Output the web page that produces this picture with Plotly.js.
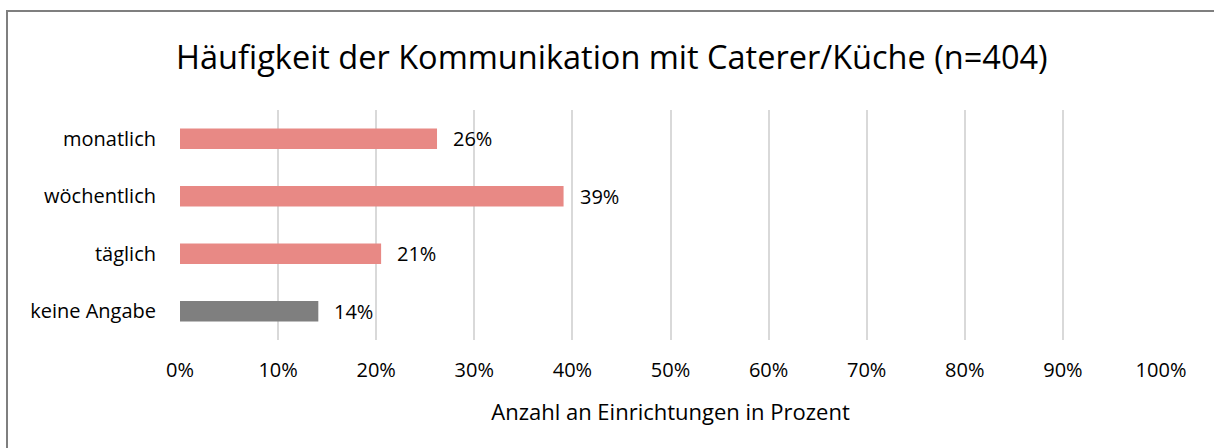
<!DOCTYPE html>
<html>
<head>
<meta charset="utf-8">
<script src="https://cdn.plot.ly/plotly-3.0.1.min.js"></script>
<style>
  html, body { margin: 0; padding: 0; background: #fff; }
  #wrap { position: relative; width: 1214px; height: 448px; overflow: hidden; }
  #chart { position: absolute; left: 0; top: 0; width: 1214px; height: 448px; }
  #frame { position: absolute; left: 6px; top: 10px; width: 1300px; height: 600px;
           border: 2px solid #7f7f7f; pointer-events: none; box-sizing: border-box; }
</style>
</head>
<body>
<div id="wrap">
  <div id="chart"></div>
  <div id="frame"></div>
</div>
<script>
const categories = ["monatlich", "wöchentlich", "täglich", "keine Angabe"];
const values = [26.2, 39.1, 20.5, 14.1];
const valueLabels = ["26%", "39%", "21%", "14%"];
const barColors = ["#E88985", "#E88985", "#E88985", "#7F7F7F"];
const xTickValues = [0, 10, 20, 30, 40, 50, 60, 70, 80, 90, 100];
const xTickLabels = ["0%", "10%", "20%", "30%", "40%", "50%", "60%", "70%", "80%", "90%", "100%"];

const FONT = "'Open Sans', 'Noto Sans', sans-serif";

const trace = {
  type: "bar",
  orientation: "h",
  y: categories,
  x: values,
  marker: { color: barColors, line: { width: 0 } },
  width: 0.355,
  hoverinfo: "skip"
};

const annotations = categories.map((c, i) => ({
  x: values[i], y: c, xref: "x", yref: "y",
  text: valueLabels[i], showarrow: false,
  xanchor: "left", yanchor: "middle", xshift: 14,
  font: { family: FONT, size: 20, color: "#000" }
}));

const layout = {
  width: 1214, height: 448,
  margin: { l: 179.5, r: 52.5, t: 110, b: 108, pad: 0 },
  paper_bgcolor: "#fff", plot_bgcolor: "#fff",
  showlegend: false,
  title: {
    text: "Häufigkeit der Kommunikation mit Caterer/Küche (n=404)",
    font: { family: FONT, size: 32.5, color: "#000" },
    x: 0.504, xanchor: "center", y: 0.872, yanchor: "middle"
  },
  xaxis: {
    range: [0, 100],
    tickmode: "array",
    tickvals: xTickValues,
    ticktext: xTickLabels,
    showgrid: true, gridcolor: "#D9D9D9", gridwidth: 2,
    zeroline: false, showline: false, ticks: "",
    ticklabelstandoff: 16,
    tickfont: { family: FONT, size: 20, color: "#000" },
    title: { text: "Anzahl an Einrichtungen in Prozent", font: { family: FONT, size: 22, color: "#000" }, standoff: 22 },
    fixedrange: true
  },
  yaxis: {
    type: "category",
    categoryorder: "array",
    categoryarray: categories.slice().reverse(),
    showgrid: false, zeroline: false, showline: false, ticks: "",
    tickfont: { family: FONT, size: 20, color: "#000" },
    ticklabelstandoff: 23,
    fixedrange: true
  },
  annotations: annotations
};

Plotly.newPlot("chart", [trace], layout, { displayModeBar: false, staticPlot: true });
</script>
</body>
</html>
